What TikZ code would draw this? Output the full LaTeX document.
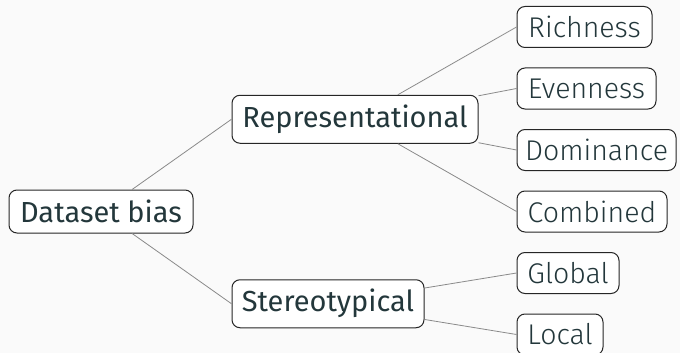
\documentclass[tikz,border=0pt]{standalone}
\usepackage{fontspec}
\setmainfont{Fira Sans}
\newfontfamily\lightfont{Fira Sans Light}
\definecolor{bgc}{HTML}{FAFAFA}
\definecolor{txt}{HTML}{23373B}
\definecolor{edgec}{HTML}{8A8A8A}
\tikzset{
  box/.style={draw=black!85, line width=1pt, rounded corners=8pt, fill=white, text=txt, inner sep=0pt, align=center},
  mainbox/.style={box, font=\fontsize{29}{32}\selectfont},
  leafbox/.style={box, font=\lightfont\fontsize{28.5}{32}\selectfont, minimum height=41},
  conn/.style={draw=edgec, line width=0.8pt}
}
\begin{document}
\begin{tikzpicture}[x=1pt,y=-1pt]
\fill[bgc] (0,0) rectangle (680,353);
\useasboundingbox (0,0) rectangle (680,353);
\node[mainbox, minimum width=184, minimum height=43] (root) at (101,211.5) {Dataset bias};
\node[mainbox, minimum width=246, minimum height=48] (rep) at (355,119.25) {Representational};
\node[mainbox, minimum width=192, minimum height=48] (ste) at (328,303.75) {Stereotypical};
\node[leafbox, minimum width=135] (ric) at (584.5,27) {Richness};
\node[leafbox, minimum width=139] (eve) at (586.5,88.5) {Evenness};
\node[leafbox, minimum width=159] (dom) at (596.5,150) {Dominance};
\node[leafbox, minimum width=150] (com) at (592,211.5) {Combined};
\node[leafbox, minimum width=102] (glo) at (568,273) {Global};
\node[leafbox, minimum width=86] (loc) at (560,334.5) {Local};
\draw[conn] (root) -- (rep.west);
\draw[conn] (root) -- (ste.west);
\draw[conn] (rep) -- (ric.west);
\draw[conn] (rep) -- (eve.west);
\draw[conn] (rep) -- (dom.west);
\draw[conn] (rep) -- (com.west);
\draw[conn] (ste) -- (glo.west);
\draw[conn] (ste) -- (loc.west);
\end{tikzpicture}
\end{document}
